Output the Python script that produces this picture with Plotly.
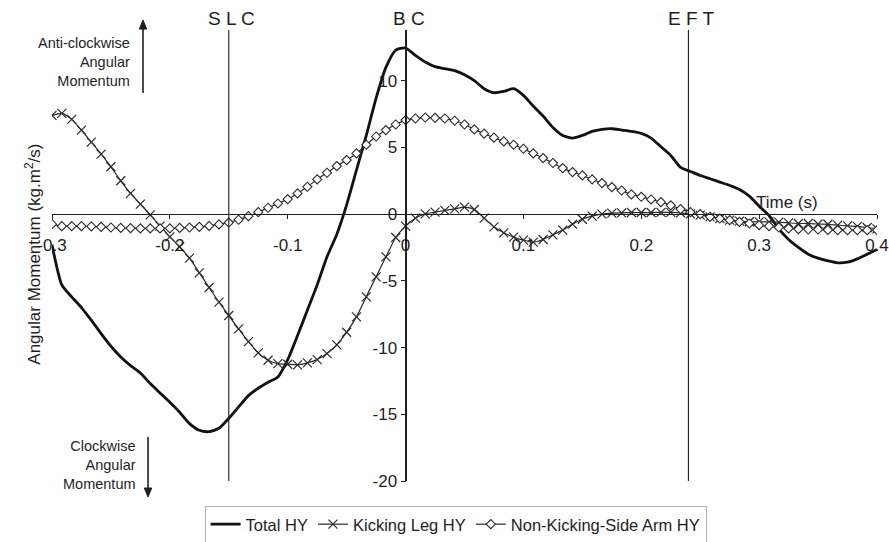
import plotly.graph_objects as go

# samples at 120 Hz from -0.3 s to 0.4 s
time_s = [round(i / 120, 5) for i in range(-36, 49)]

total_hy = [
    -2.3, -5.3, -6.2, -7.0, -7.95, -8.95, -9.9, -10.7, -11.35, -11.9,
    -12.7, -13.4, -14.1, -14.85, -15.7, -16.2, -16.3, -16.05, -15.3, -14.45,
    -13.6, -13.05, -12.6, -12.2, -10.9, -9.1, -7.2, -5.3, -3.2, -1.5,
    0.7, 3.3, 5.9, 8.7, 11.0, 12.3, 12.45, 11.9, 11.4, 11.05,
    10.9, 10.75, 10.45, 10.0, 9.4, 9.1, 9.2, 9.4, 8.9, 8.1,
    7.35, 6.5, 5.9, 5.7, 5.9, 6.2, 6.35, 6.4, 6.3, 6.2,
    6.05, 5.7, 5.05, 4.4, 3.5, 3.2, 2.9, 2.65, 2.4, 2.15,
    1.85, 1.35, 0.6, -0.1, -1.1, -1.9, -2.5, -3.0, -3.3, -3.5,
    -3.65, -3.6, -3.35, -3.0, -2.65,
]

kicking_leg_hy = [
    7.4, 7.55, 7.1, 6.3, 5.4, 4.5, 3.55, 2.5, 1.55, 0.75,
    -0.05, -0.9, -1.7, -2.45, -3.3, -4.4, -5.5, -6.6, -7.6, -8.6,
    -9.55, -10.4, -10.95, -11.2, -11.25, -11.3, -11.15, -10.9, -10.45, -9.8,
    -8.85, -7.7, -6.2, -4.7, -3.2, -1.75, -0.9, -0.3, 0.02, 0.15,
    0.28, 0.4, 0.52, 0.35, -0.3, -0.95, -1.4, -1.72, -1.95, -2.1,
    -1.9, -1.55, -1.2, -0.75, -0.38, -0.15, 0.0, 0.07, 0.1, 0.12,
    0.12, 0.12, 0.13, 0.13, 0.1, 0.02, -0.07, -0.2, -0.33, -0.45,
    -0.52, -0.57, -0.58, -0.58, -0.6, -0.65, -0.7, -0.7, -0.74, -0.76,
    -0.82, -0.88, -0.92, -1.0, -1.1,
]

arm_hy = [
    -0.75, -0.9, -0.9, -0.9, -0.92, -0.95, -1.0, -1.03, -1.05, -1.07,
    -1.07, -1.07, -1.07, -1.03, -1.0, -0.95, -0.88, -0.77, -0.63, -0.42,
    -0.15, 0.15, 0.48, 0.8, 1.12, 1.55, 2.05, 2.6, 3.1, 3.6,
    4.05, 4.55, 5.2, 5.82, 6.3, 6.72, 7.05, 7.17, 7.24, 7.22,
    7.17, 7.0, 6.72, 6.35, 6.03, 5.73, 5.45, 5.2, 4.9, 4.55,
    4.2, 3.83, 3.45, 3.15, 2.9, 2.6, 2.33, 2.03, 1.77, 1.48,
    1.3, 1.1, 0.9, 0.66, 0.38, 0.15, 0.0, -0.2, -0.33, -0.45,
    -0.58, -0.7, -0.83, -0.9, -1.0, -1.07, -1.12, -1.15, -1.15, -1.18,
    -1.2, -1.2, -1.2, -1.2, -1.2,
]

event_names = ["S L C", "B C", "E F T"]
event_times = [-0.15, 0.0, 0.24]

x_tick_vals = [-0.3, -0.2, -0.1, 0, 0.1, 0.2, 0.3, 0.4]
x_tick_text = ["-0.3", "-0.2", "-0.1", "0", "0.1", "0.2", "0.3", "0.4"]
y_tick_vals = [-20, -15, -10, -5, 0, 5, 10]
y_tick_text = ["-20", "-15", "-10", "-5", "0", "5", "10"]

X_RANGE = [-0.3, 0.4]
Y_RANGE = [-20, 13.8]

FONT = "Arial, 'Liberation Sans', sans-serif"
INK = "#1e1e1e"

fig = go.Figure()
fig.add_trace(go.Scatter(
    x=time_s, y=total_hy, name="Total HY", mode="lines",
    line=dict(color="#111111", width=2.8, shape="spline", smoothing=0.6),
))
fig.add_trace(go.Scatter(
    x=time_s, y=kicking_leg_hy, name="Kicking Leg HY", mode="lines+markers",
    line=dict(color="#2a2a2a", width=1.2, shape="spline", smoothing=0.6),
    marker=dict(symbol="x-thin", size=9, color="#2a2a2a",
                line=dict(width=1.2, color="#2a2a2a")),
))
fig.add_trace(go.Scatter(
    x=time_s, y=arm_hy, name="Non-Kicking-Side Arm HY", mode="lines+markers",
    line=dict(color="#2a2a2a", width=1.2, shape="spline", smoothing=0.6),
    marker=dict(symbol="diamond", size=7, color="white",
                line=dict(width=1.1, color="#2a2a2a")),
))

for name, t in zip(event_names, event_times):
    fig.add_shape(type="line", xref="x", yref="paper", x0=t, x1=t, y0=0, y1=1,
                  line=dict(color=INK, width=1.1), layer="above")
    fig.add_annotation(x=t, y=1.0255, xref="x", yref="paper", text=name,
                       showarrow=False, xanchor="center", yanchor="middle",
                       xshift=3, font=dict(size=19, family=FONT, color=INK))

zero_frac_y = (0 - Y_RANGE[0]) / (Y_RANGE[1] - Y_RANGE[0])
zero_frac_x = (0 - X_RANGE[0]) / (X_RANGE[1] - X_RANGE[0])

fig.update_layout(
    width=889, height=542,
    margin=dict(l=52, r=12, t=30, b=61, autoexpand=False),
    paper_bgcolor="white", plot_bgcolor="white",
    font=dict(family=FONT, size=17, color=INK),
    xaxis=dict(
        range=X_RANGE, anchor="free", position=zero_frac_y,
        tickvals=x_tick_vals, ticktext=x_tick_text,
        showline=True, linecolor=INK, linewidth=1,
        ticks="outside", ticklen=4, tickcolor=INK,
        showgrid=False, zeroline=False, ticklabelstandoff=11,
        automargin=False,
    ),
    yaxis=dict(
        range=Y_RANGE, anchor="free", position=zero_frac_x,
        tickvals=y_tick_vals, ticktext=y_tick_text,
        showline=True, linecolor=INK, linewidth=1,
        ticks="outside", ticklen=5, tickcolor=INK,
        showgrid=False, zeroline=False, automargin=False,
    ),
    legend=dict(
        orientation="h", x=0.5125, xanchor="center", xref="container",
        y=0.0665, yanchor="top", yref="container",
        bordercolor="#b4b4b4", borderwidth=1, font=dict(size=16.5),
        itemwidth=30, tracegroupgap=0,
    ),
    showlegend=True,
)

# axis titles
fig.add_annotation(x=-0.0388, y=0.504, xref="paper", yref="paper",
                   text="Angular Momentum (kg.m<sup>2</sup>/s)", textangle=-90,
                   showarrow=False, font=dict(size=17, family=FONT, color=INK))
fig.add_annotation(x=0.931, y=0.6175, xref="paper", yref="paper",
                   text="Time (s)", showarrow=False,
                   font=dict(size=17, family=FONT, color=INK))
# direction labels
fig.add_annotation(x=0.097, y=0.928, xref="paper", yref="paper",
                   text="Anti-clockwise<br>Angular<br>Momentum", align="right",
                   xanchor="right", yanchor="middle", showarrow=False,
                   font=dict(size=14.5, family=FONT, color=INK))
fig.add_annotation(x=0.104, y=0.0355, xref="paper", yref="paper",
                   text="Clockwise<br>Angular<br>Momentum", align="right",
                   xanchor="right", yanchor="middle", showarrow=False,
                   font=dict(size=14.5, family=FONT, color=INK))

# direction arrows (shafts + filled heads), in paper coordinates
hw = 0.0045
ux, dx = 0.1103, 0.1164
fig.add_shape(type="line", xref="paper", yref="paper", x0=ux, x1=ux,
              y0=0.8603, y1=1.004, line=dict(color=INK, width=1.6))
fig.add_shape(type="path", xref="paper", yref="paper",
              path=f"M {ux-hw},1.002 L {ux+hw},1.002 L {ux},1.0222 Z",
              fillcolor=INK, line=dict(color=INK, width=1))
fig.add_shape(type="line", xref="paper", yref="paper", x0=dx, x1=dx,
              y0=0.0976, y1=-0.0175, line=dict(color=INK, width=1.6))
fig.add_shape(type="path", xref="paper", yref="paper",
              path=f"M {dx-hw},-0.0155 L {dx+hw},-0.0155 L {dx},-0.0355 Z",
              fillcolor=INK, line=dict(color=INK, width=1))

fig.write_html("out.html")
